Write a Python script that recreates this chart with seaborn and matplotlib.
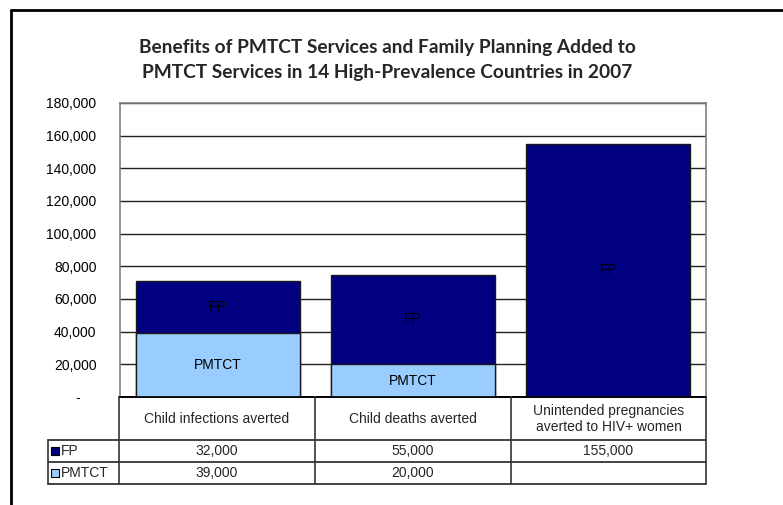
import matplotlib
matplotlib.use("Agg")
import matplotlib.pyplot as plt
import seaborn as sns
import pandas as pd
from matplotlib.lines import Line2D
from matplotlib.patches import Rectangle

# ---------------- data ----------------
categories = ["Child infections averted", "Child deaths averted",
              "Unintended pregnancies\naverted to HIV+ women"]
fp_values = [32000, 55000, 155000]
pmtct_values = [39000, 20000, 0]
series_names = ["FP", "PMTCT"]
series_colors = ["#000080", "#99CCFF"]
y_ticks = [0, 20000, 40000, 60000, 80000, 100000, 120000, 140000, 160000, 180000]
title = ("Benefits of PMTCT Services and Family Planning Added to\n"
         "PMTCT Services in 14 High-Prevalence Countries in 2007")

W, H = 783, 505
sns.set_theme(style="white")
plt.rcParams["font.family"] = ["Liberation Sans", "DejaVu Sans"]

fig = plt.figure(figsize=(W / 100, H / 100), dpi=100)
fig.patch.set_facecolor("white")


def fx(px):
    return px / W


def fy(py):
    return 1 - py / H


L, R, T, B = 120, 706, 103, 397
ax = fig.add_axes([fx(L), fy(B), fx(R) - fx(L), fy(T) - fy(B)])

df = pd.DataFrame({"cat": categories, "FP": fp_values, "PMTCT": pmtct_values})
df["total"] = df["FP"] + df["PMTCT"]

sns.barplot(data=df, x="cat", y="total", color=series_colors[0], saturation=1,
            width=0.84, edgecolor="#1a1a1a", linewidth=1, errorbar=None, ax=ax)
sns.barplot(data=df, x="cat", y="PMTCT", color=series_colors[1], saturation=1,
            width=0.84, edgecolor="#1a1a1a", linewidth=1, errorbar=None, ax=ax)
for p in ax.patches:
    p.set_zorder(3)

for i, (f, p) in enumerate(zip(fp_values, pmtct_values)):
    if p > 0:
        ax.text(i, p / 2, series_names[1], ha="center", va="center",
                fontsize=10, color="black", zorder=5)
    ax.text(i, p + f / 2, series_names[0], ha="center", va="center",
            fontsize=10, color="black", zorder=5)

ax.set_xlim(-0.5, 2.5)
ax.set_ylim(0, 180000)
ax.set_yticks(y_ticks)
ax.set_yticklabels([f"{v:,}" if v else "-    " for v in y_ticks], fontsize=10)
ax.set_xticks([])
ax.set_xlabel("")
ax.set_ylabel("")
ax.tick_params(axis="y", length=0, pad=17, colors="black")
ax.yaxis.grid(True, color="#222222", linewidth=1, zorder=0)
ax.set_axisbelow(True)
ax.set_facecolor("white")
for s in ["left", "top", "right"]:
    ax.spines[s].set_color("#808080")
    ax.spines[s].set_linewidth(1.2)
ax.spines["bottom"].set_color("black")

# ---------------- overlay: title, data table, frame ----------------
ov = fig.add_axes([0, 0, 1, 1])
ov.set_xlim(0, W)
ov.set_ylim(H, 0)
ov.axis("off")
ov.patch.set_visible(False)

ov.text(387, 60, title, ha="center", va="center", fontsize=13.8,
        fontweight="bold", family=["Lato", "DejaVu Sans"], linespacing=1.55)

# frame
ov.add_line(Line2D([11, W], [10, 10], color="black", lw=2))
ov.add_line(Line2D([11, 11], [10, H], color="black", lw=2))

# table grid
col_edges = [119, 315, 511, 706]
leg_left = 48
row_y = [397, 440, 462, 484]
ov.add_line(Line2D([119, 706], [397, 397], color="black", lw=1.2))
for y in row_y[1:]:
    ov.add_line(Line2D([leg_left, 706], [y, y], color="#222222", lw=1.2))
for x in col_edges:
    ov.add_line(Line2D([x, x], [397, 484], color="#333333", lw=1.2))
ov.add_line(Line2D([leg_left, leg_left], [440, 484], color="#333333", lw=1.2))

col_centers = [(col_edges[i] + col_edges[i + 1]) / 2 for i in range(3)]
for cx, c in zip(col_centers, categories):
    ov.text(cx, 419, c, ha="center", va="center", fontsize=10, linespacing=1.15)

rows = [(series_names[0], series_colors[0], fp_values, 451),
        (series_names[1], series_colors[1], pmtct_values, 473)]
for name, col, vals, yc in rows:
    ov.add_patch(Rectangle((51, yc - 4.5), 8, 8, facecolor=col,
                           edgecolor="black", lw=0.8))
    ov.text(61, yc, name, ha="left", va="center", fontsize=10)
    for cx, v in zip(col_centers, vals):
        if v:
            ov.text(cx, yc, f"{v:,}", ha="center", va="center", fontsize=10)

fig.savefig("out.png", dpi=100)
